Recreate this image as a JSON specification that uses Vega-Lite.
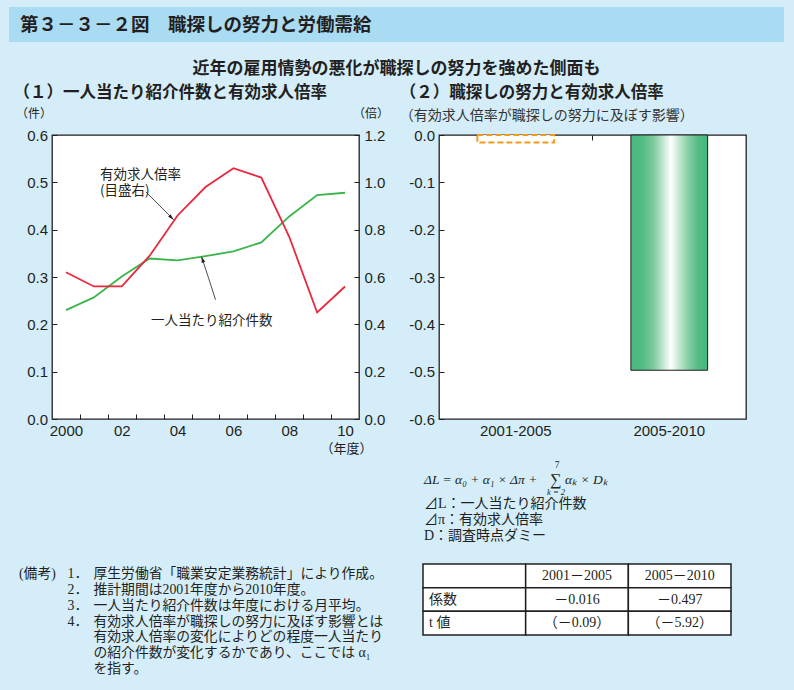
{
  "$schema": "https://vega.github.io/schema/vega-lite/v6.json",
  "background": "#d4edf9",
  "padding": {"left": 9, "top": 7, "right": 10, "bottom": 12},
  "spacing": 6,
  "config": {
    "view": {"stroke": null},
    "font": "Liberation Sans, Noto Sans CJK JP",
    "title": {"color": "#231f20"},
    "axis": {"grid": false, "domain": false, "labelColor": "#231f20", "tickColor": "#231f20", "titleColor": "#231f20", "labelFont": "Liberation Sans", "labelFontSize": 15, "labelFlush": false, "labelOverlap": false}
  },
  "vconcat": [
    {
      "width": 775, "height": 35,
      "view": {"fill": "#a9dbf3", "stroke": null},
      "title": {"text": "近年の雇用情勢の悪化が職探しの努力を強めた側面も", "orient": "bottom", "anchor": "middle", "offset": 19, "fontSize": 17, "fontWeight": "bold", "font": "Noto Sans CJK JP"},
      "data": {"values": [{"label": "第３－３－２図　職探しの努力と労働需給"}]},
      "mark": {"type": "text", "align": "left", "baseline": "middle", "dx": 11, "fontSize": 18.5, "fontWeight": "bold", "font": "Noto Sans CJK JP", "color": "#231f20"},
      "encoding": {
        "x": {"datum": 0, "type": "quantitative", "scale": {"domain": [0, 1]}, "axis": null},
        "text": {"field": "label"}
      }
    },
    {
      "spacing": 2,
      "hconcat": [
        {"width": 1, "height": 1, "data": {"values": []}, "mark": "point"},
        {
          "spacing": 1,
          "vconcat": [
            {
              "spacing": 9,
              "hconcat": [
                {
                  "width": 307, "height": 284,
                  "view": {"fill": "white", "stroke": "#231f20", "strokeWidth": 1.3},
                  "title": {"text": "（１）一人当たり紹介件数と有効求人倍率", "anchor": "start", "offset": 6, "dx": -2, "fontSize": 16.5, "fontWeight": "bold", "font": "Noto Sans CJK JP"},
                  "layer": [
                    {
                      "data": {"values": [
                        {"year": 2000, "count": 0.230, "ratio": 0.62},
                        {"year": 2001, "count": 0.257, "ratio": 0.56},
                        {"year": 2002, "count": 0.301, "ratio": 0.56},
                        {"year": 2003, "count": 0.339, "ratio": 0.69},
                        {"year": 2004, "count": 0.335, "ratio": 0.86},
                        {"year": 2005, "count": 0.344, "ratio": 0.98},
                        {"year": 2006, "count": 0.354, "ratio": 1.06},
                        {"year": 2007, "count": 0.373, "ratio": 1.02},
                        {"year": 2008, "count": 0.428, "ratio": 0.77},
                        {"year": 2009, "count": 0.473, "ratio": 0.45},
                        {"year": 2010, "count": 0.478, "ratio": 0.56}
                      ]},
                      "mark": {"type": "line", "color": "#39b54a", "strokeWidth": 1.8},
                      "encoding": {
                        "x": {"field": "year", "type": "quantitative", "scale": {"domain": [1999.5, 2010.5], "nice": false, "zero": false},
                          "axis": {"orient": "bottom", "values": [2000, 2002, 2004, 2006, 2008, 2010], "labelExpr": "datum.value == 2000 ? '2000' : slice(toString(datum.value), 2)", "ticks": false, "labelPadding": 4.5, "title": "（年度）", "titleX": 294, "titleY": 29.5, "titleAlign": "center", "titleBaseline": "middle", "titleFontSize": 13, "titleFontWeight": "normal", "titleFont": "Noto Sans CJK JP"}},
                        "y": {"field": "count", "type": "quantitative", "scale": {"domain": [0, 0.6], "nice": false},
                          "axis": {"orient": "left", "values": [0, 0.1, 0.2, 0.3, 0.4, 0.5, 0.6], "format": ".1f", "tickSize": -5, "labelPadding": 9.5, "title": "（件）", "titleAngle": 0, "titleX": -36.5, "titleY": -22, "titleAlign": "left", "titleBaseline": "middle", "titleFontSize": 12, "titleFontWeight": "normal", "titleFont": "Noto Sans CJK JP"}}
                      }
                    },
                    {
                      "data": {"values": [
                        {"year": 2000, "count": 0.230, "ratio": 0.62},
                        {"year": 2001, "count": 0.257, "ratio": 0.56},
                        {"year": 2002, "count": 0.301, "ratio": 0.56},
                        {"year": 2003, "count": 0.339, "ratio": 0.69},
                        {"year": 2004, "count": 0.335, "ratio": 0.86},
                        {"year": 2005, "count": 0.344, "ratio": 0.98},
                        {"year": 2006, "count": 0.354, "ratio": 1.06},
                        {"year": 2007, "count": 0.373, "ratio": 1.02},
                        {"year": 2008, "count": 0.428, "ratio": 0.77},
                        {"year": 2009, "count": 0.473, "ratio": 0.45},
                        {"year": 2010, "count": 0.478, "ratio": 0.56}
                      ]},
                      "mark": {"type": "line", "color": "#e8283c", "strokeWidth": 1.8},
                      "encoding": {
                        "x": {"field": "year", "type": "quantitative", "scale": {"domain": [1999.5, 2010.5], "nice": false, "zero": false},
                          "axis": {"orient": "bottom", "values": [2000.5, 2001.5, 2002.5, 2003.5, 2004.5, 2005.5, 2006.5, 2007.5, 2008.5, 2009.5], "labels": false, "tickSize": -5, "title": null}},
                        "y": {"field": "ratio", "type": "quantitative", "scale": {"domain": [0, 1.2], "nice": false},
                          "axis": {"orient": "right", "values": [0, 0.2, 0.4, 0.6, 0.8, 1.0, 1.2], "format": ".1f", "tickSize": -5, "labelPadding": 10, "title": "（倍）", "titleAngle": 0, "titleX": -6.5, "titleY": -22, "titleAlign": "left", "titleBaseline": "middle", "titleFontSize": 12, "titleFontWeight": "normal", "titleFont": "Noto Sans CJK JP"}}
                      }
                    },
                    {
                      "data": {"values": [
                        {"x": 2001.22, "y": 0.5145, "label": "有効求人倍率\n(目盛右)"},
                        {"x": 2003.05, "y": 0.2075, "label": "一人当たり紹介件数"}
                      ]},
                      "mark": {"type": "text", "align": "left", "baseline": "middle", "lineBreak": "\n", "lineHeight": 16, "fontSize": 13.5, "font": "Noto Sans CJK JP", "color": "#231f20"},
                      "encoding": {
                        "x": {"field": "x", "type": "quantitative", "scale": {"domain": [1999.5, 2010.5], "nice": false, "zero": false}, "axis": null},
                        "y": {"field": "y", "type": "quantitative", "scale": {"domain": [0, 0.6], "nice": false}, "axis": null},
                        "text": {"field": "label"}
                      }
                    },
                    {
                      "data": {"values": [
                        {"x": 2002.86, "y": 0.480, "x2": 2003.86, "y2": 0.421},
                        {"x": 2005.36, "y": 0.252, "x2": 2004.86, "y2": 0.343}
                      ]},
                      "mark": {"type": "rule", "color": "#231f20", "strokeWidth": 0.8},
                      "encoding": {
                        "x": {"field": "x", "type": "quantitative", "scale": {"domain": [1999.5, 2010.5], "nice": false, "zero": false}, "axis": null},
                        "y": {"field": "y", "type": "quantitative", "scale": {"domain": [0, 0.6], "nice": false}, "axis": null},
                        "x2": {"field": "x2"},
                        "y2": {"field": "y2"}
                      }
                    },
                    {
                      "data": {"values": [{"x": 2003.86, "y": 0.421}]},
                      "mark": {"type": "point", "shape": "M0,0L0.6,2L-0.6,2Z", "filled": true, "opacity": 1, "color": "#231f20", "size": 36, "angle": 134},
                      "encoding": {
                        "x": {"field": "x", "type": "quantitative", "scale": {"domain": [1999.5, 2010.5], "nice": false, "zero": false}, "axis": null},
                        "y": {"field": "y", "type": "quantitative", "scale": {"domain": [0, 0.6], "nice": false}, "axis": null}
                      }
                    },
                    {
                      "data": {"values": [{"x": 2004.86, "y": 0.343}]},
                      "mark": {"type": "point", "shape": "M0,0L0.6,2L-0.6,2Z", "filled": true, "opacity": 1, "color": "#231f20", "size": 36, "angle": 342},
                      "encoding": {
                        "x": {"field": "x", "type": "quantitative", "scale": {"domain": [1999.5, 2010.5], "nice": false, "zero": false}, "axis": null},
                        "y": {"field": "y", "type": "quantitative", "scale": {"domain": [0, 0.6], "nice": false}, "axis": null}
                      }
                    }
                  ],
                  "resolve": {"scale": {"y": "independent"}, "axis": {"x": "independent", "y": "independent"}}
                },
                {
                  "width": 307, "height": 284,
                  "view": {"fill": "white", "stroke": "#231f20", "strokeWidth": 1.3},
                  "title": {"text": "（２）職探しの努力と有効求人倍率", "subtitle": "（有効求人倍率が職探しの努力に及ぼす影響）", "anchor": "start", "offset": 5.5, "subtitlePadding": 7, "fontSize": 16.5, "fontWeight": "bold", "font": "Noto Sans CJK JP", "subtitleFont": "Noto Sans CJK JP", "subtitleFontSize": 14, "subtitleColor": "#333333", "dx": -9},
                  "data": {"values": [
                    {"period": "2001-2005", "coef": -0.016},
                    {"period": "2005-2010", "coef": -0.497}
                  ]},
                  "encoding": {
                    "y": {"field": "coef", "type": "quantitative", "scale": {"domain": [-0.6, 0], "nice": false},
                      "axis": {"values": [-0.6, -0.5, -0.4, -0.3, -0.2, -0.1, 0], "labelExpr": "replace(format(datum.value, '.1f'), '−', '-')", "tickSize": -5, "labelPadding": 9.5, "title": null}}
                  },
                  "layer": [
                    {
                      "transform": [{"filter": "datum.period == '2001-2005'"}],
                      "mark": {"type": "bar", "fill": "white", "stroke": "#f39a1e", "strokeWidth": 2, "strokeDash": [6, 3]},
                      "encoding": {
                        "x": {"field": "period", "type": "nominal", "scale": {"type": "band", "domain": ["2001-2005", "2005-2010"], "paddingInner": 0.5, "paddingOuter": 0.25},
                          "axis": {"orient": "bottom", "ticks": false, "labelAngle": 0, "labelPadding": 4.5, "title": null}}
                      }
                    },
                    {
                      "transform": [{"filter": "datum.period == '2005-2010'"}],
                      "mark": {"type": "bar", "stroke": "#231f20", "strokeWidth": 1,
                        "fill": {"gradient": "linear", "x1": 0, "y1": 0, "x2": 1, "y2": 0, "stops": [
                          {"offset": 0, "color": "#47b87b"},
                          {"offset": 0.15, "color": "#52bc83"},
                          {"offset": 0.3, "color": "#7fcb9f"},
                          {"offset": 0.42, "color": "#c3e7d0"},
                          {"offset": 0.52, "color": "#ffffff"},
                          {"offset": 0.62, "color": "#c8e9d4"},
                          {"offset": 0.75, "color": "#86cea4"},
                          {"offset": 0.88, "color": "#52bc83"},
                          {"offset": 1, "color": "#47b87b"}
                        ]}},
                      "encoding": {
                        "x": {"field": "period", "type": "nominal", "scale": {"type": "band", "domain": ["2001-2005", "2005-2010"], "paddingInner": 0.5, "paddingOuter": 0.25},
                          "axis": {"orient": "top", "values": ["2005-2010"], "labels": false, "tickSize": -5, "tickOffset": -77, "title": null}}
                      }
                    }
                  ],
                  "resolve": {"axis": {"x": "independent"}}
                }
              ]
            },
            {
              "spacing": 18,
              "hconcat": [
                {
                  "width": 352, "height": 221,
                  "data": {"values": [
                    {"line": 1, "head": "(備考)", "num": "1．", "body": "厚生労働省「職業安定業務統計」により作成。"},
                    {"line": 2, "head": "", "num": "2．", "body": "推計期間は2001年度から2010年度。"},
                    {"line": 3, "head": "", "num": "3．", "body": "一人当たり紹介件数は年度における月平均。"},
                    {"line": 4, "head": "", "num": "4．", "body": "有効求人倍率が職探しの努力に及ぼす影響とは"},
                    {"line": 5, "head": "", "num": "", "body": "有効求人倍率の変化によりどの程度一人当たり"},
                    {"line": 6, "head": "", "num": "", "body": "の紹介件数が変化するかであり、ここでは α₁"},
                    {"line": 7, "head": "", "num": "", "body": "を指す。"}
                  ]},
                  "encoding": {
                    "x": {"datum": 0, "type": "quantitative", "scale": {"domain": [0, 1]}, "axis": null},
                    "y": {"field": "line", "type": "quantitative", "scale": {"domain": [-6.32, 7.62], "reverse": true, "nice": false, "zero": false}, "axis": null}
                  },
                  "layer": [
                    {"mark": {"type": "text", "align": "left", "baseline": "middle", "dx": -33, "fontSize": 13.8, "font": "Liberation Serif, Noto Sans CJK JP", "color": "#231f20"}, "encoding": {"text": {"field": "head"}}},
                    {"mark": {"type": "text", "align": "left", "baseline": "middle", "dx": 15.5, "fontSize": 13.8, "font": "Liberation Serif, Noto Sans CJK JP", "color": "#231f20"}, "encoding": {"text": {"field": "num"}}},
                    {"mark": {"type": "text", "align": "left", "baseline": "middle", "dx": 41.5, "fontSize": 13.8, "font": "Liberation Serif, Noto Sans CJK JP", "color": "#231f20"}, "encoding": {"text": {"field": "body"}}}
                  ]
                },
                {
                  "spacing": 17,
                  "vconcat": [
                    {
                      "width": 330, "height": 88,
                      "data": {"values": [
                        {"line": 0, "part": "lhs", "text": "ΔL = α₀ + α₁ × Δπ +"},
                        {"line": 0, "part": "sum", "text": "∑"},
                        {"line": 0, "part": "sup", "text": "7"},
                        {"line": 0, "part": "sub", "text": "k = 2"},
                        {"line": 0, "part": "rhs", "text": "αₖ × Dₖ"},
                        {"line": 1.5, "part": "def", "text": "⊿L：一人当たり紹介件数"},
                        {"line": 2.5, "part": "def", "text": "⊿π：有効求人倍率"},
                        {"line": 3.5, "part": "def", "text": "D：調査時点ダミー"}
                      ]},
                      "encoding": {
                        "x": {"datum": 0, "type": "quantitative", "scale": {"domain": [0, 1]}, "axis": null},
                        "y": {"field": "line", "type": "quantitative", "scale": {"domain": [-1.4, 4.1], "reverse": true, "nice": false, "zero": false}, "axis": null},
                        "text": {"field": "text"}
                      },
                      "layer": [
                        {"transform": [{"filter": "datum.part == 'lhs'"}], "mark": {"type": "text", "align": "left", "baseline": "middle", "dx": 1, "fontSize": 13.5, "fontStyle": "italic", "font": "Liberation Serif", "color": "#231f20"}},
                        {"transform": [{"filter": "datum.part == 'sum'"}], "mark": {"type": "text", "align": "center", "baseline": "middle", "dx": 133, "fontSize": 16, "font": "Liberation Serif", "color": "#231f20"}},
                        {"transform": [{"filter": "datum.part == 'sup'"}], "mark": {"type": "text", "align": "center", "baseline": "middle", "dx": 134, "dy": -15, "fontSize": 9.5, "font": "Liberation Serif", "color": "#231f20"}},
                        {"transform": [{"filter": "datum.part == 'sub'"}], "mark": {"type": "text", "align": "center", "baseline": "middle", "dx": 133, "dy": 11.5, "fontSize": 8.5, "fontStyle": "italic", "font": "Liberation Serif", "color": "#231f20"}},
                        {"transform": [{"filter": "datum.part == 'rhs'"}], "mark": {"type": "text", "align": "left", "baseline": "middle", "dx": 142, "fontSize": 13.5, "fontStyle": "italic", "font": "Liberation Serif", "color": "#231f20"}},
                        {"transform": [{"filter": "datum.part == 'def'"}], "mark": {"type": "text", "align": "left", "baseline": "middle", "dx": 1, "fontSize": 14, "font": "Liberation Serif, Noto Sans CJK JP", "color": "#231f20"}}
                      ]
                    },
                    {
                      "width": 308, "height": 71,
                      "data": {"values": [
                        {"row": "h", "col": "a", "text": ""},
                        {"row": "h", "col": "b", "text": "2001－2005"},
                        {"row": "h", "col": "c", "text": "2005－2010"},
                        {"row": "k", "col": "a", "text": "係数"},
                        {"row": "k", "col": "b", "text": "－0.016"},
                        {"row": "k", "col": "c", "text": "－0.497"},
                        {"row": "t", "col": "a", "text": "t 値"},
                        {"row": "t", "col": "b", "text": "（－0.09）"},
                        {"row": "t", "col": "c", "text": "（－5.92）"}
                      ]},
                      "encoding": {
                        "x": {"field": "col", "type": "nominal", "scale": {"type": "band", "domain": ["a", "b", "c"], "paddingInner": 0, "paddingOuter": 0}, "axis": null},
                        "y": {"field": "row", "type": "nominal", "scale": {"type": "band", "domain": ["h", "k", "t"], "paddingInner": 0, "paddingOuter": 0}, "axis": null}
                      },
                      "layer": [
                        {"mark": {"type": "rect", "fill": "white", "stroke": "#231f20", "strokeWidth": 1.5}},
                        {
                          "transform": [{"filter": "datum.col == 'a'"}],
                          "mark": {"type": "text", "align": "left", "baseline": "middle", "dx": 6, "fontSize": 14, "font": "Liberation Serif, Noto Sans CJK JP", "color": "#231f20"},
                          "encoding": {
                            "x": {"field": "col", "type": "nominal", "bandPosition": 0},
                            "y": {"field": "row", "type": "nominal", "bandPosition": 0.5},
                            "text": {"field": "text"}
                          }
                        },
                        {
                          "transform": [{"filter": "datum.col != 'a'"}],
                          "mark": {"type": "text", "align": "center", "baseline": "middle", "fontSize": 14, "font": "Liberation Serif, Noto Sans CJK JP", "color": "#231f20"},
                          "encoding": {
                            "x": {"field": "col", "type": "nominal", "bandPosition": 0.5},
                            "y": {"field": "row", "type": "nominal", "bandPosition": 0.5},
                            "text": {"field": "text"}
                          }
                        }
                      ]
                    }
                  ]
                }
              ]
            }
          ]
        }
      ]
    }
  ]
}
